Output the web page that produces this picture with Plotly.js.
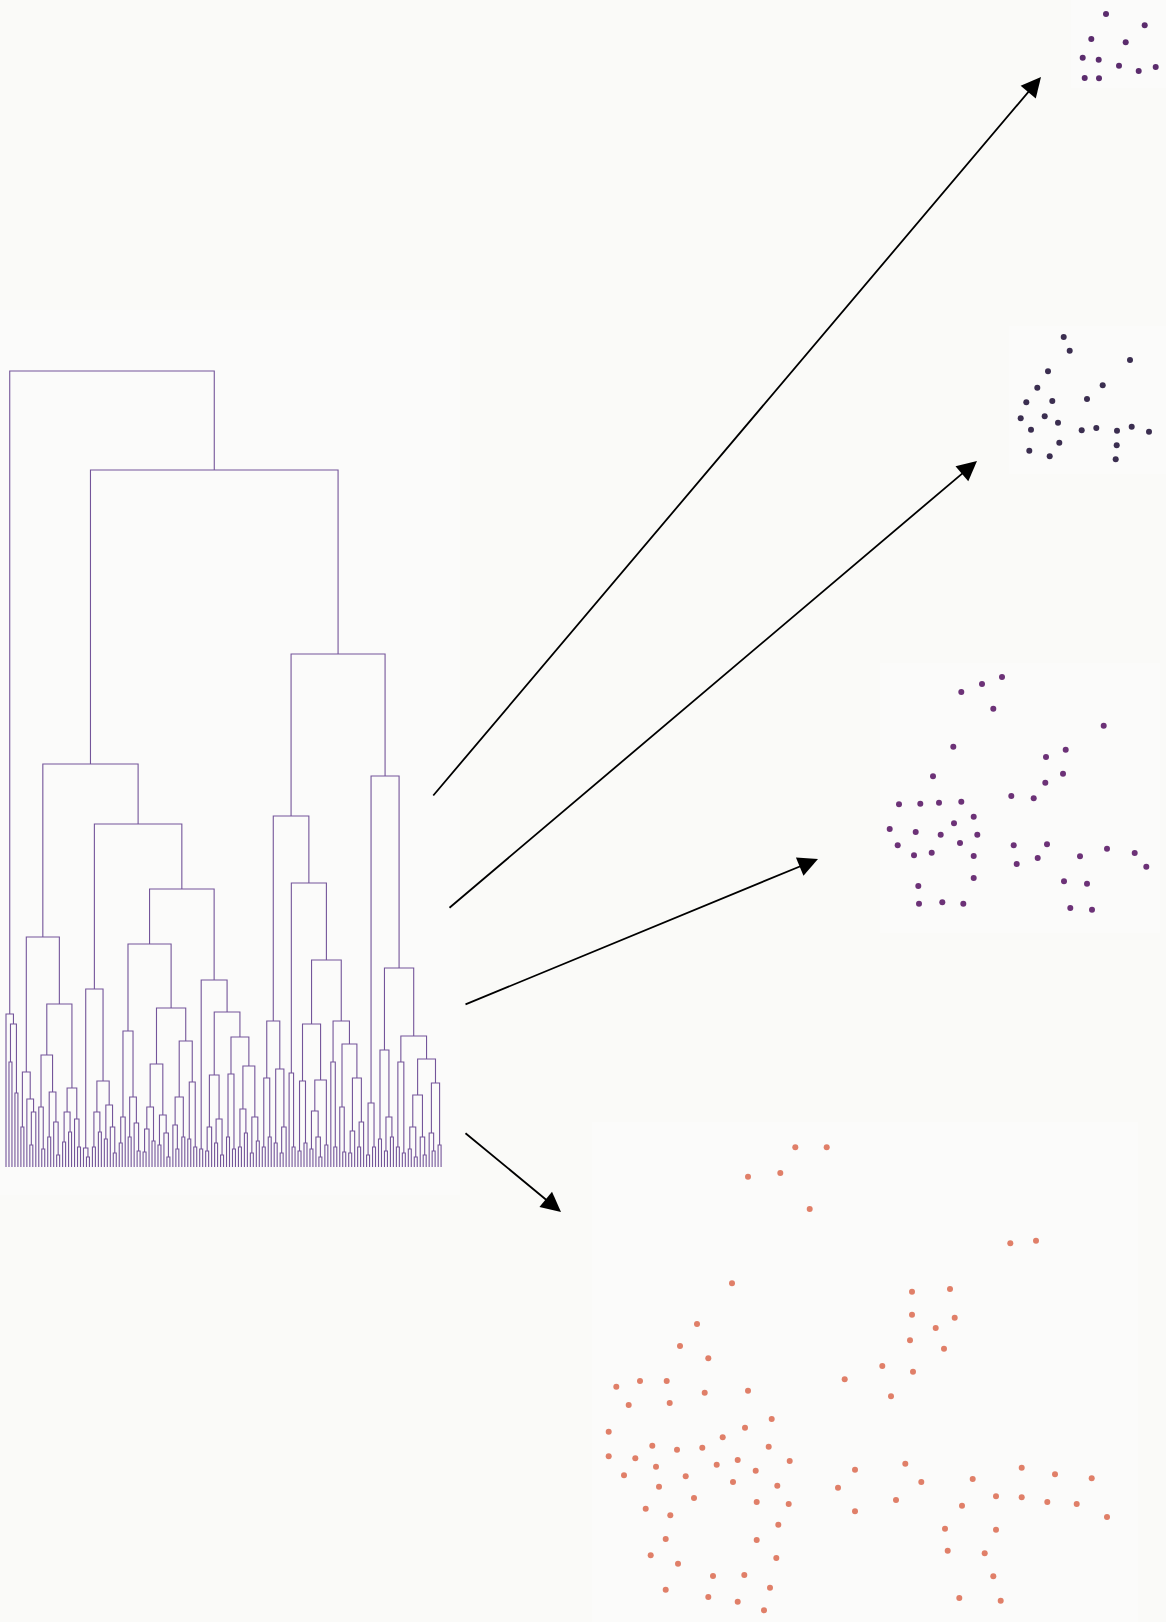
<!DOCTYPE html>
<html><head><meta charset="utf-8">
<script src="https://cdn.plot.ly/plotly-3.0.1.min.js"></script>
<style>html,body{margin:0;padding:0;background:#fafaf8;} #chart{width:1166px;height:1622px;}</style>
</head><body><div id="chart"></div>
<script>
// ---------------- DATA ----------------
// Dendrogram: each internal node is [left, right, mergeHeight]; 0 is a leaf.
const treeRootLeft = [0, [[0,0,105],[0,0,74],143], 153];
const treeA1 = [
  [[0,0,40],[0,[[0,0,22],0,55],68],95],
  [[[0,[0,0,18],60],[[0,0,30],[0,[0,0,12],45],75],112],
   [[[0,0,25],[0,0,35],55],[0,[0,0,20],48],79],163],
  230];
const treeA2 = [
  [[0,[0,0,10],19],[[[0,0,20],[0,0,35],55],[[0,0,28],[0,[0,0,14],40],62],86],178],
  [
    [
      [[[0,0,24],0,50],[[0,0,30],[0,[0,0,16],44],70],136],
      [
        [[[[0,0,15],0,38],[0,0,26],60],[[0,0,22],[0,[0,0,10],34],52],103],
        [[[0,[0,0,18],42],[0,0,30],70],[[0,0,28],[0,0,20],85],126],
        159],
      223],
    [[0,0,18],
      [
        [[[0,0,16],0,40],[[0,0,24],[0,0,12],48],92],
        [[[0,0,30],[0,0,18],93],[[[0,0,20],[0,0,34],58],[[0,0,14],[0,0,26],50],101],130],
        155],
      187],
    278],
  343];
const treeC = [
  [[[0,0,20],[0,0,30],89],[[0,0,24],[[0,0,14],0,40],98],146],
  [[0,[0,0,20],94],
   [
     [[[0,0,16],[0,0,24],86],[[[0,0,18],[0,[0,0,10],30],56],[0,0,22],87],143],
     [[0,[0,0,20],105],[[0,[0,0,15],60],[[[0,0,14],0,36],[[0,0,20],0,45],89],123],146],
     207],
   284],
  351];
const treeD = [
  [[0,0,12],[0,0,20],64],
  [
    [[0,0,28],[[0,0,16],[0,0,30],50],117],
    [[[0,0,20],[0,0,14],105],
     [[[[0,0,18],[0,0,10],40],[0,[0,0,12],30],72],[[0,[0,0,16],34],[0,0,22],84],108],
     131],
    199],
  391];
const upperHeights = [403, 513, 697, 796]; // A1+A2, C+D, A+B, root

// Scatter panels (local coordinates)
const p1x = [35, 73.7, 20.3, 54.7, 11.7, 27.7, 48, 67.7, 84.7, 13.7, 28];
const p1y = [74, 62.7, 49, 45.7, 30.3, 28.3, 22.3, 17, 21, 10, 9.7];

const p2x = [54.7, 60.7, 121, 39, 28.3, 93.7, 17.3, 43.3, 78, 11.7, 35.7, 49, 22, 72.7, 87.3, 108, 122.7, 140, 50.3, 107.7, 20.3, 40.7, 106.7];
const p2y = [137, 123.3, 114, 102.7, 86.3, 88.7, 71.7, 73, 75, 55.7, 57.7, 51.3, 44.3, 43.7, 46, 43.3, 47.3, 42.3, 31.3, 28.7, 23.3, 17.7, 14.7];

const p3x = [122, 102, 81.3, 113.3, 223.7, 73.3, 185.7, 166, 183, 53, 165.3, 131.3, 153.7, 19, 40.3, 59, 81.3, 93.7, 74, 9.7, 35.7, 60.7, 97.3, 80, 17.7, 133.7, 167, 227, 254.7, 34, 51.7, 93.7, 157.7, 200, 136.7, 266.3, 93.7, 184, 207, 38.3, 39, 62.3, 83.3, 190.3, 212];
const p3y = [256, 249, 241, 224.3, 207.3, 186.3, 183.3, 176, 159.3, 156.7, 150.3, 137, 134.7, 128.7, 129.3, 130.3, 131.3, 116.3, 109.7, 104, 101, 98.3, 98.3, 90, 87.7, 87.7, 88.7, 84.3, 80, 77.7, 80.3, 77, 75, 76.7, 69, 66.3, 55, 51.7, 49.3, 47, 29.3, 30.7, 29.3, 25, 23.3];

const p4x = [203.3, 234.7, 156, 188.3, 217.7, 140, 105, 88, 116.3, 290.3, 252.7, 24.3, 48, 74.7, 36.7, 77.7, 112.7, 156, 179.7, 153, 130.7, 16.7, 16.7, 60.3, 85, 110.3, 176.7, 43.3, 64, 124.7, 145.7, 197.7, 32, 93.7, 163.7, 263, 67, 141, 185.3, 246, 102, 164.7, 196.7, 263, 53.7, 78.3, 186.3, 73.7, 164.7, 58.7, 86, 184.3, 121, 152.3, 73.7, 116.3, 145.7, 178, 172,
  418.3, 444, 320, 358, 320, 362.7, 343.7, 318, 352, 321, 299, 313.3, 329.3, 304, 380.7, 370, 429.7, 404, 429.7, 463, 499.7, 455.3, 484.7, 515, 353, 404, 355.7, 392.7, 401.3, 367.3, 408.7];
const p4y = [474.7, 474.7, 445.3, 449, 413, 338.7, 298, 276, 263.7, 256, 242.7, 235.3, 241, 241, 217, 219, 229.3, 231.3, 203, 194.3, 184.7, 190.3, 165.7, 176.3, 172.3, 174.3, 175.3, 163.7, 155.3, 157.3, 162, 161, 146.7, 145.7, 151.3, 152.3, 135.3, 140, 136.3, 134.3, 124, 120, 118, 110.7, 113.3, 106.7, 97.3, 83, 82, 66.7, 58.3, 64, 46, 47, 32.3, 25, 20.3, 34.3, 11.7,
  378.7, 381.3, 330.3, 333, 307.3, 304.3, 294, 281.7, 273.3, 250.3, 225.7, 158.3, 140, 122, 143, 116.3, 154.3, 125.7, 124.7, 147.7, 143.7, 120, 118, 105, 93.3, 92.3, 71.3, 68.7, 45.7, 24, 21.3];

// ---------------- LAYOUT HELPERS ----------------
const W = 1166, H = 1622;
const PAGE_BG = '#fafaf8', PANEL_BG = '#fbfbfa';
// panel boxes in page pixels [x0, y0, x1, y1]
const boxDendro = [0, 310, 460, 1195];
const boxes = [[1071, 0, 1166, 88], [1009, 326, 1166, 474], [880, 663, 1160, 933], [592, 1122, 1138, 1622]];
const colors = ['#5b2c6d', '#3b2e50', '#6c3277', '#e07f68'];
const arrows = [
  {tail: [432, 797], head: [1041, 77]},
  {tail: [448, 909], head: [977, 461]},
  {tail: [464, 1005], head: [818, 859]},
  {tail: [464, 1132], head: [561, 1212]}
];

// ---------------- DENDROGRAM GEOMETRY ----------------
let leafCounter = 0;
const segX = [], segY = [];
function walk(node) {
  if (node === 0) return {x: leafCounter++, h: 0};
  const l = walk(node[0]), r = walk(node[1]), h = node[2];
  segX.push(l.x, l.x, r.x, r.x, null);
  segY.push(l.h, h, h, r.h, null);
  return {x: (l.x + r.x) / 2, h: h};
}
const fullTree = [treeRootLeft, [[treeA1, treeA2, upperHeights[0]], [treeC, treeD, upperHeights[1]], upperHeights[2]], upperHeights[3]];
walk(fullTree);

// leaf i sits at page px 6 + 3*i
const leafX0 = 6, leafStep = 2.98, baseY = 1167;

const traces = [{
  type: 'scatter', mode: 'lines', x: segX, y: segY, xaxis: 'x', yaxis: 'y',
  line: {color: '#74559a', width: 1.1}, hoverinfo: 'skip', showlegend: false
}];
const pxs = [p1x, p2x, p3x, p4x], pys = [p1y, p2y, p3y, p4y];
for (let k = 0; k < 4; k++) {
  traces.push({
    type: 'scatter', mode: 'markers', x: pxs[k], y: pys[k],
    xaxis: 'x' + (k + 2), yaxis: 'y' + (k + 2),
    marker: {color: colors[k], size: 6, line: {width: 0}},
    hoverinfo: 'skip', showlegend: false, cliponaxis: false
  });
}

const layout = {
  width: W, height: H, margin: {l: 0, r: 0, t: 0, b: 0},
  paper_bgcolor: PAGE_BG, plot_bgcolor: 'rgba(0,0,0,0)',
  showlegend: false,
  xaxis: {domain: [boxDendro[0] / W, boxDendro[2] / W],
          range: [(boxDendro[0] - leafX0) / leafStep, (boxDendro[2] - leafX0) / leafStep], visible: false},
  yaxis: {domain: [1 - 1175 / H, 1 - 360 / H], range: [baseY - 1175, baseY - 360], visible: false},
  shapes: [], annotations: []
};
const allBoxes = [boxDendro].concat(boxes);
allBoxes.forEach(b => {
  layout.shapes.push({type: 'rect', xref: 'paper', yref: 'paper', layer: 'below',
    x0: b[0] / W, x1: b[2] / W, y0: 1 - b[3] / H, y1: 1 - b[1] / H,
    fillcolor: PANEL_BG, line: {width: 0}});
});
boxes.forEach((b, k) => {
  const n = k + 2;
  layout['xaxis' + n] = {domain: [b[0] / W, b[2] / W], range: [0, b[2] - b[0]], visible: false, anchor: 'y' + n};
  layout['yaxis' + n] = {domain: [1 - b[3] / H, 1 - b[1] / H], range: [0, b[3] - b[1]], visible: false, anchor: 'x' + n};
});
arrows.forEach(a => {
  layout.annotations.push({
    xref: 'paper', yref: 'paper', x: a.head[0] / W, y: 1 - a.head[1] / H,
    axref: 'pixel', ayref: 'pixel', ax: a.tail[0] - a.head[0], ay: a.tail[1] - a.head[1],
    showarrow: true, arrowhead: 2, arrowsize: 2.2, arrowwidth: 1.8, arrowcolor: '#000000',
    standoff: 0, text: ''
  });
});

Plotly.newPlot('chart', traces, layout, {staticPlot: true, displayModeBar: false});
</script></body></html>
